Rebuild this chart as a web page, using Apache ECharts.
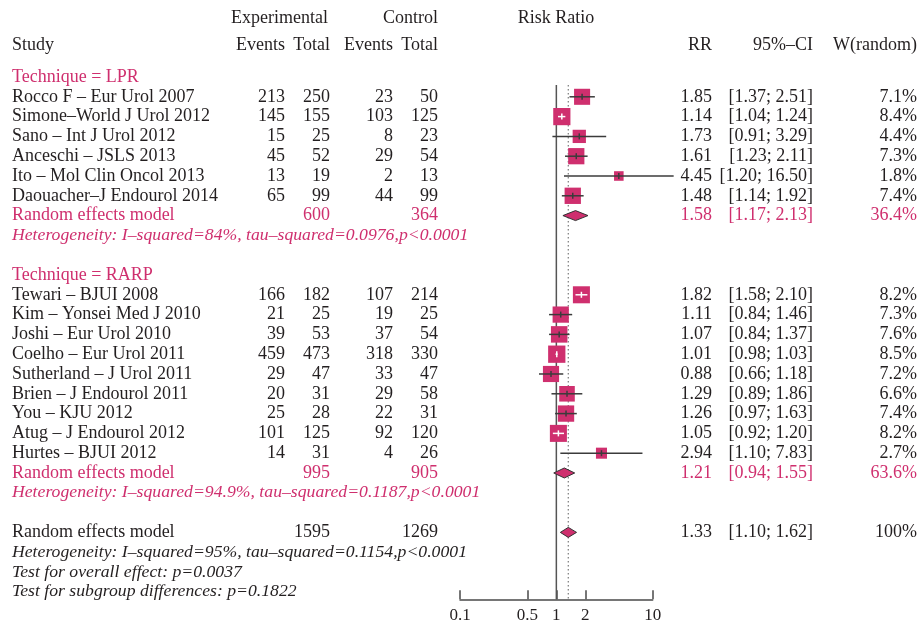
<!DOCTYPE html>
<html>
<head>
<meta charset="utf-8">
<title>Forest plot – Risk Ratio by technique</title>
<script src="https://cdn.jsdelivr.net/npm/echarts@6/dist/echarts.min.js"></script>
<style>
  html, body { margin: 0; padding: 0; background: #ffffff; }
  #chart { width: 920px; height: 625px; }
</style>
</head>
<body>
<div id="chart"></div>
<script>
// ---- Study data -------------------------------------------------------
const lprStudies = ['Rocco F – Eur Urol 2007', 'Simone–World J Urol 2012', 'Sano – Int J Urol 2012',
  'Anceschi – JSLS 2013', 'Ito – Mol Clin Oncol 2013', 'Daouacher–J Endourol 2014'];
const lprExpEvents = [213, 145, 15, 45, 13, 65];
const lprExpTotal = [250, 155, 25, 52, 19, 99];
const lprCtrlEvents = [23, 103, 8, 29, 2, 44];
const lprCtrlTotal = [50, 125, 23, 54, 13, 99];
const lprRR = [1.85, 1.14, 1.73, 1.61, 4.45, 1.48];
const lprLower = [1.37, 1.04, 0.91, 1.23, 1.20, 1.14];
const lprUpper = [2.51, 1.24, 3.29, 2.11, 16.50, 1.92];
const lprWeight = [7.1, 8.4, 4.4, 7.3, 1.8, 7.4];

const rarpStudies = ['Tewari – BJUI 2008', 'Kim – Yonsei Med J 2010', 'Joshi – Eur Urol 2010',
  'Coelho – Eur Urol 2011', 'Sutherland – J Urol 2011', 'Brien – J Endourol 2011',
  'You – KJU 2012', 'Atug – J Endourol 2012', 'Hurtes – BJUI 2012'];
const rarpExpEvents = [166, 21, 39, 459, 29, 20, 25, 101, 14];
const rarpExpTotal = [182, 25, 53, 473, 47, 31, 28, 125, 31];
const rarpCtrlEvents = [107, 19, 37, 318, 33, 29, 22, 92, 4];
const rarpCtrlTotal = [214, 25, 54, 330, 47, 58, 31, 120, 26];
const rarpRR = [1.82, 1.11, 1.07, 1.01, 0.88, 1.29, 1.26, 1.05, 2.94];
const rarpLower = [1.58, 0.84, 0.84, 0.98, 0.66, 0.89, 0.97, 0.92, 1.10];
const rarpUpper = [2.10, 1.46, 1.37, 1.03, 1.18, 1.86, 1.63, 1.20, 7.83];
const rarpWeight = [8.2, 7.3, 7.6, 8.5, 7.2, 6.6, 7.4, 8.2, 2.7];

// ---- Pooled (random effects) estimates: LPR, RARP, overall ------------
const pooledLabels = ['Random effects model', 'Random effects model', 'Random effects model'];
const pooledExpTotal = [600, 995, 1595];
const pooledCtrlTotal = [364, 905, 1269];
const pooledRR = [1.58, 1.21, 1.33];
const pooledLower = [1.17, 0.94, 1.10];
const pooledUpper = [2.13, 1.55, 1.62];
const pooledWeight = ['36.4%', '63.6%', '100%'];

const groupTitles = ['Technique = LPR', 'Technique = RARP'];
const heterogeneityNotes = [
  'Heterogeneity: I–squared=84%, tau–squared=0.0976,p<0.0001',
  'Heterogeneity: I–squared=94.9%, tau–squared=0.1187,p<0.0001',
  'Heterogeneity: I–squared=95%, tau–squared=0.1154,p<0.0001'
];
const testNotes = ['Test for overall effect: p=0.0037', 'Test for subgroup differences: p=0.1822'];

const xTicks = [0.1, 0.5, 1, 2, 10];
const nullValue = 1;

// ---- Layout --------------------------------------------------------------
const PINK = '#CF2F6E';
const INK = '#231F20';
const FONT = '"Liberation Serif", "Times New Roman", serif';
const FS = 18;
const FS_ITALIC = 17.7;

const COL = { study: 12, expEv: 285, expTot: 330, ctlEv: 393, ctlTot: 438, rr: 712, ci: 813, w: 917 };

const fmt2 = v => v.toFixed(2);
const ciText = (l, u) => '[' + fmt2(l) + '; ' + fmt2(u) + ']';

const cells = [];
function cell(row, text, x, align, color, italic) {
  cells.push({ row, text: String(text), x, align, color: color || INK, italic: !!italic });
}

// header
cell(-2.98, 'Experimental', 328, 'right');
cell(-2.98, 'Control', 438, 'right');
cell(-2.98, 'Risk Ratio', 556, 'center');
cell(-1.62, 'Study', COL.study, 'left');
cell(-1.62, 'Events', COL.expEv, 'right');
cell(-1.62, 'Total', COL.expTot, 'right');
cell(-1.62, 'Events', COL.ctlEv, 'right');
cell(-1.62, 'Total', COL.ctlTot, 'right');
cell(-1.62, 'RR', COL.rr, 'right');
cell(-1.62, '95%–CI', COL.ci, 'right');
cell(-1.62, 'W(random)', COL.w, 'right');

const studyMarks = [];
const pooledMarks = [];

const groups = [
  { names: lprStudies, ee: lprExpEvents, et: lprExpTotal, ce: lprCtrlEvents, ct: lprCtrlTotal,
    rr: lprRR, lo: lprLower, hi: lprUpper, w: lprWeight },
  { names: rarpStudies, ee: rarpExpEvents, et: rarpExpTotal, ce: rarpCtrlEvents, ct: rarpCtrlTotal,
    rr: rarpRR, lo: rarpLower, hi: rarpUpper, w: rarpWeight }
];

let row = 0;
groups.forEach((g, gi) => {
  cell(row, groupTitles[gi], COL.study, 'left', PINK);
  row++;
  g.names.forEach((name, i) => {
    cell(row, name, COL.study, 'left');
    cell(row, g.ee[i], COL.expEv, 'right');
    cell(row, g.et[i], COL.expTot, 'right');
    cell(row, g.ce[i], COL.ctlEv, 'right');
    cell(row, g.ct[i], COL.ctlTot, 'right');
    cell(row, fmt2(g.rr[i]), COL.rr, 'right');
    cell(row, ciText(g.lo[i], g.hi[i]), COL.ci, 'right');
    cell(row, g.w[i].toFixed(1) + '%', COL.w, 'right');
    studyMarks.push([g.rr[i], row, g.lo[i], g.hi[i], g.w[i]]);
    row++;
  });
  cell(row, pooledLabels[gi], COL.study, 'left', PINK);
  cell(row, pooledExpTotal[gi], COL.expTot, 'right', PINK);
  cell(row, pooledCtrlTotal[gi], COL.ctlTot, 'right', PINK);
  cell(row, fmt2(pooledRR[gi]), COL.rr, 'right', PINK);
  cell(row, ciText(pooledLower[gi], pooledUpper[gi]), COL.ci, 'right', PINK);
  cell(row, pooledWeight[gi], COL.w, 'right', PINK);
  pooledMarks.push([pooledRR[gi], row, pooledLower[gi], pooledUpper[gi]]);
  row++;
  cell(row, heterogeneityNotes[gi], COL.study, 'left', PINK, true);
  row += 2;
});

// overall
cell(row, pooledLabels[2], COL.study, 'left');
cell(row, pooledExpTotal[2], COL.expTot, 'right');
cell(row, pooledCtrlTotal[2], COL.ctlTot, 'right');
cell(row, fmt2(pooledRR[2]), COL.rr, 'right');
cell(row, ciText(pooledLower[2], pooledUpper[2]), COL.ci, 'right');
cell(row, pooledWeight[2], COL.w, 'right');
pooledMarks.push([pooledRR[2], row, pooledLower[2], pooledUpper[2]]);
row++;
cell(row, heterogeneityNotes[2], COL.study, 'left', INK, true);
row++;
testNotes.forEach(t => { cell(row, t, COL.study, 'left', INK, true); row++; });

const lastRow = row - 1;
const axisRow = lastRow + 0.38;
const refTop = 0.4;

// ---- Chart ---------------------------------------------------------------
const chart = echarts.init(document.getElementById('chart'), null, { renderer: 'canvas' });

const option = {
  backgroundColor: '#ffffff',
  animation: false,
  grid: { left: 460, right: 267.3, top: 17.6, bottom: 25.7, containLabel: false },
  xAxis: {
    type: 'log',
    logBase: 10,
    min: 0.1,
    max: 10,
    position: 'bottom',
    splitLine: { show: false },
    axisLine: { show: true, onZero: false, lineStyle: { color: '#4a4a4a', width: 1.5 } },
    axisTick: { show: true, inside: true, length: 9, customValues: xTicks,
      lineStyle: { color: '#4a4a4a', width: 1.5 } },
    axisLabel: { show: true, customValues: xTicks, margin: 8, color: INK,
      fontFamily: FONT, fontSize: 17, formatter: v => String(+(+v).toPrecision(3)) },
    minorTick: { show: false }
  },
  yAxis: {
    type: 'value',
    inverse: true,
    min: -3,
    max: axisRow,
    show: false,
    splitLine: { show: false }
  },
  series: [
    {
      // line of no effect
      type: 'line',
      data: [[nullValue, refTop], [nullValue, axisRow]],
      symbol: 'none',
      lineStyle: { color: '#555555', width: 1.5 },
      silent: true,
      z: 1
    },
    {
      // overall pooled estimate
      type: 'line',
      data: [[pooledRR[2], refTop], [pooledRR[2], axisRow]],
      symbol: 'none',
      lineStyle: { color: '#7a7a7a', width: 1.2, type: [1.5, 2.5] },
      silent: true,
      z: 1
    },
    {
      // individual studies: weighted squares with confidence intervals
      type: 'custom',
      data: studyMarks,
      clip: false,
      z: 3,
      renderItem: (params, api) => {
        const r = api.value(1);
        const c = api.coord([api.value(0), r]);
        const lo = api.coord([api.value(2), r])[0];
        const hi = api.coord([api.value(3), r])[0];
        const s = 3 + 4.9 * Math.sqrt(api.value(4));
        const inside = (hi - lo) < s;
        const lc = inside ? '#ffffff' : '#3b3b3b';
        return {
          type: 'group',
          children: [
            { type: 'rect', shape: { x: c[0] - s / 2, y: c[1] - s / 2, width: s, height: s },
              style: { fill: PINK } },
            { type: 'line', shape: { x1: lo, y1: c[1], x2: hi, y2: c[1] },
              style: { stroke: lc, lineWidth: 1.5 } },
            { type: 'line', shape: { x1: c[0], y1: c[1] - 3, x2: c[0], y2: c[1] + 3 },
              style: { stroke: lc, lineWidth: 1.5 } }
          ]
        };
      }
    },
    {
      // pooled estimates: diamonds
      type: 'custom',
      data: pooledMarks,
      clip: false,
      z: 3,
      renderItem: (params, api) => {
        const r = api.value(1);
        const c = api.coord([api.value(0), r]);
        const lo = api.coord([api.value(2), r])[0];
        const hi = api.coord([api.value(3), r])[0];
        const h = 5;
        return {
          type: 'polygon',
          shape: { points: [[lo, c[1]], [c[0], c[1] - h], [hi, c[1]], [c[0], c[1] + h]] },
          style: { fill: PINK, stroke: '#333333', lineWidth: 1 }
        };
      }
    },
    {
      // table text
      type: 'custom',
      data: cells.map(t => [nullValue, t.row]),
      clip: false,
      silent: true,
      z: 4,
      renderItem: (params, api) => {
        const t = cells[params.dataIndex];
        const y = api.coord([nullValue, t.row])[1];
        return {
          type: 'text',
          x: t.x,
          y: y,
          style: {
            text: t.text,
            fill: t.color,
            font: (t.italic ? 'italic ' + FS_ITALIC : FS) + 'px ' + FONT,
            align: t.align,
            verticalAlign: 'middle'
          }
        };
      }
    }
  ]
};

chart.setOption(option);
</script>
</body>
</html>
